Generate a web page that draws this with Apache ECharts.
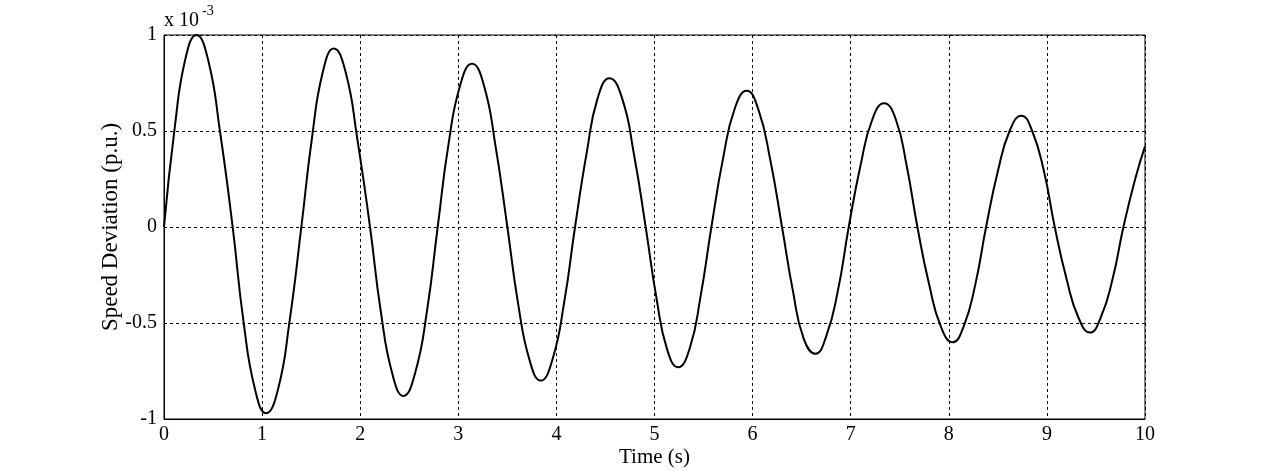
<!DOCTYPE html>
<html>
<head>
<meta charset="utf-8">
<script src="https://cdn.jsdelivr.net/npm/echarts@6/dist/echarts.min.js"></script>
<style>
  html, body { margin: 0; padding: 0; background: #fff; }
  #chart { width: 1264px; height: 471px; }
</style>
</head>
<body>
<div id="chart"></div>
<script>
// time (s) and speed deviation (x 10^-3 p.u.)
const timeS = [
  0, 0.11, 0.22, 0.33, 0.45, 0.57, 0.70,
  0.81, 0.93, 1.04, 1.16, 1.28, 1.40,
  1.51, 1.62, 1.73, 1.85, 1.97, 2.10,
  2.21, 2.33, 2.44, 2.56, 2.68, 2.79,
  2.90, 3.02, 3.14, 3.26, 3.38, 3.50,
  3.61, 3.73, 3.84, 3.96, 4.08, 4.19,
  4.31, 4.42, 4.54, 4.67, 4.79, 4.91,
  5.02, 5.13, 5.24, 5.36, 5.47, 5.58,
  5.70, 5.82, 5.94, 6.06, 6.18, 6.30,
  6.41, 6.52, 6.64, 6.75, 6.87, 6.98,
  7.10, 7.22, 7.34, 7.46, 7.57, 7.68,
  7.80, 7.92, 8.04, 8.15, 8.27, 8.38,
  8.50, 8.62, 8.74, 8.85, 8.97, 9.08,
  9.20, 9.32, 9.44, 9.55, 9.67, 9.78,
  9.90, 10.0
]
const speedDev = [
  0, 0.52, 0.88, 1.0, 0.87, 0.50, 0,
  -0.49, -0.85, -0.97, -0.85, -0.49, 0,
  0.47, 0.81, 0.93, 0.81, 0.46, 0,
  -0.44, -0.77, -0.88, -0.76, -0.44, 0,
  0.43, 0.74, 0.85, 0.74, 0.42, 0,
  -0.40, -0.70, -0.80, -0.69, -0.39, 0,
  0.39, 0.67, 0.775, 0.67, 0.38, 0,
  -0.37, -0.64, -0.73, -0.63, -0.36, 0,
  0.36, 0.62, 0.71, 0.61, 0.35, 0,
  -0.33, -0.58, -0.66, -0.57, -0.33, 0,
  0.32, 0.56, 0.645, 0.56, 0.32, 0,
  -0.30, -0.52, -0.60, -0.52, -0.30, 0,
  0.29, 0.50, 0.58, 0.50, 0.29, 0,
  -0.27, -0.47, -0.55, -0.47, -0.27, 0,
  0.25, 0.42
]

const font = 'Liberation Serif'
const chart = echarts.init(document.getElementById('chart'))

const option = {
  animation: false,
  grid: {
    left: 164,
    right: 119,
    top: 35,
    bottom: 52,
    outerBoundsMode: 'none',
    show: true,
    borderColor: '#000',
    borderWidth: 1
  },
  xAxis: {
    type: 'value',
    min: 0,
    max: 10,
    interval: 1,
    name: 'Time (s)',
    nameLocation: 'middle',
    nameGap: 28,
    nameMoveOverlap: false,
    nameTextStyle: { color: '#000', fontFamily: font, fontSize: 21 },
    axisLine: { show: true, onZero: false, lineStyle: { color: '#000', width: 1 } },
    axisTick: { show: false },
    axisLabel: { color: '#000', fontFamily: font, fontSize: 20, margin: 6 },
    splitLine: { show: true, lineStyle: { color: '#000', width: 1, type: [3, 3] } }
  },
  yAxis: {
    type: 'value',
    min: -1,
    max: 1,
    interval: 0.5,
    name: 'Speed Deviation (p.u.)',
    nameLocation: 'middle',
    nameGap: 42,
    nameMoveOverlap: false,
    nameTextStyle: { color: '#000', fontFamily: font, fontSize: 23 },
    axisLine: { show: true, onZero: false, lineStyle: { color: '#000', width: 1 } },
    axisTick: { show: false },
    axisLabel: { color: '#000', fontFamily: font, fontSize: 20, margin: 7 },
    splitLine: { show: true, lineStyle: { color: '#000', width: 1, type: [3, 3] } }
  },
  graphic: [
    {
      type: 'text',
      left: 164,
      top: 11,
      style: { text: 'x 10', fontFamily: font, fontSize: 20, fill: '#000' }
    },
    {
      type: 'text',
      left: 202,
      top: 4,
      style: { text: '-3', fontFamily: font, fontSize: 14, fill: '#000' }
    }
  ],
  series: [
    {
      type: 'line',
      data: timeS.map((t, i) => [t, speedDev[i]]),
      smooth: 0.5,
      symbol: 'none',
      lineStyle: { color: '#000', width: 2 }
    }
  ]
}
chart.setOption(option)
</script>
</body>
</html>
